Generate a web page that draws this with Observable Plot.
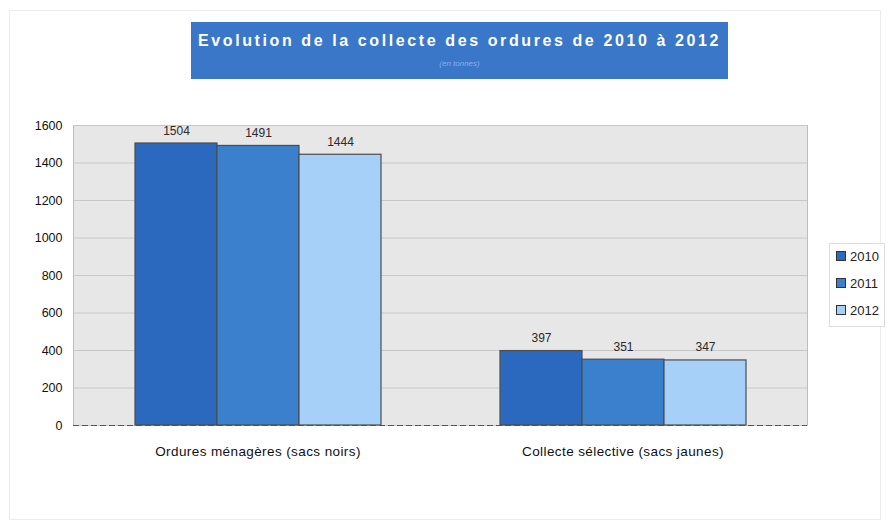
<!DOCTYPE html>
<html>
<head>
<meta charset="utf-8">
<script src="https://cdn.jsdelivr.net/npm/d3@7"></script>
<script src="https://cdn.jsdelivr.net/npm/@observablehq/plot@0.6"></script>
<style>
  html, body { margin: 0; padding: 0; background: #fff; }
  #wrap { position: relative; width: 889px; height: 523px; overflow: hidden; font-family: Arial, "Liberation Sans", sans-serif; }
  #border { position: absolute; left: 9px; top: 10px; width: 872px; height: 510px; border: 1px solid #ececec; box-sizing: border-box; }
  #banner { position: absolute; left: 191px; top: 22px; width: 537px; height: 57px; background: #3a77c9; text-align: center; }
  #banner .t { color: #fff; font-weight: bold; font-size: 16px; letter-spacing: 2.6px; margin-top: 10px; white-space: nowrap; }
  #banner .s { color: #86b2ea; font-style: italic; font-size: 8px; margin-top: 9px; }
  .layer { position: absolute; left: 0; top: 0; }
  #legend { position: absolute; left: 829px; top: 243px; width: 56px; height: 84px; border: 1px solid #dcdcdc; box-sizing: border-box; background: #fff; }
  #legend .item { position: absolute; left: 6px; font-size: 13px; color: #222; white-space: nowrap; line-height: 14px; }
  #legend .sw { display: inline-block; width: 8px; height: 8px; border: 1px solid #333; margin-right: 4px; vertical-align: 0px; }
</style>
</head>
<body>
<div id="wrap">
  <div id="border"></div>
  <div id="banner"><div class="t"></div><div class="s"></div></div>
  <div id="legend"></div>
</div>
<script>
const title = "Evolution de la collecte des ordures de 2010 à 2012";
const subtitle = "(en tonnes)";
const categories = ["Ordures ménagères (sacs noirs)", "Collecte sélective (sacs jaunes)"];
const years = ["2010", "2011", "2012"];
const values2010 = [1504, 397];
const values2011 = [1491, 351];
const values2012 = [1444, 347];
const colors = ["#2a69bd", "#3a80cd", "#a7d0f8"];
const yTicks = [0, 200, 400, 600, 800, 1000, 1200, 1400, 1600];

const series = [values2010, values2011, values2012];
const data = [];
categories.forEach((c, i) => years.forEach((yr, j) => data.push({category: c, year: yr, value: series[j][i]})));

document.querySelector("#banner .t").textContent = title;
document.querySelector("#banner .s").textContent = subtitle;

const W = 889, H = 523;
const margins = {marginTop: 125, marginBottom: 98, marginLeft: 73, marginRight: 82};
const font = 'Arial, "Liberation Sans", sans-serif';

// background layer: plot area, grid, y axis
const bg = Plot.plot({
  width: W, height: H, ...margins,
  style: {fontFamily: font, fontSize: "12.5px", color: "#111", background: "transparent"},
  y: {domain: [0, 1600]},
  marks: [
    Plot.frame({fill: "#e7e7e7", stroke: "#bdbdbd"}),
    Plot.gridY(yTicks, {stroke: "#c8c8c8", strokeOpacity: 1}),
    Plot.axisY(yTicks, {tickSize: 0, tickPadding: 11, label: null, fontSize: 12.5, tickFormat: d => String(d)}),
    Plot.ruleY([0], {stroke: "#555", strokeDasharray: "6,3"})
  ]
});
bg.classList.add("layer");

// bars layer
const fg = Plot.plot({
  width: W, height: H, ...margins,
  style: {fontFamily: font, fontSize: "13px", color: "#111", background: "transparent"},
  fx: {domain: categories, paddingInner: 0.322, paddingOuter: 0.164, label: null},
  x: {domain: years, padding: 0, axis: null},
  y: {domain: [0, 1600], axis: null},
  color: {domain: years, range: colors},
  marks: [
    Plot.barY(data, {fx: "category", x: "year", y: "value", fill: "year", stroke: "#4d4d4d", strokeWidth: 1.2}),
    Plot.text(data, {fx: "category", x: "year", y: "value", text: d => String(d.value), dy: -9, lineAnchor: "bottom", fontSize: 12, fill: "#2a2a2a"}),
    Plot.axisFx({anchor: "bottom", tickSize: 0, tickPadding: 21, label: null, fontSize: 13.5, fill: "#111", style: "letter-spacing:0.4px"})
  ]
});
fg.classList.add("layer");
fg.querySelectorAll("[aria-label='fx-axis tick label'] text, g[aria-label^='fx-axis'] text").forEach(t => t.style.letterSpacing = "0.4px");

const wrap = document.getElementById("wrap");
wrap.insertBefore(bg, document.getElementById("legend"));
wrap.insertBefore(fg, document.getElementById("legend"));

const legend = document.getElementById("legend");
years.forEach((yr, i) => {
  const it = document.createElement("div");
  it.className = "item";
  it.style.top = (6 + i * 27) + "px";
  const sw = document.createElement("span");
  sw.className = "sw";
  sw.style.background = colors[i];
  it.appendChild(sw);
  it.appendChild(document.createTextNode(yr));
  legend.appendChild(it);
});
</script>
</body>
</html>
